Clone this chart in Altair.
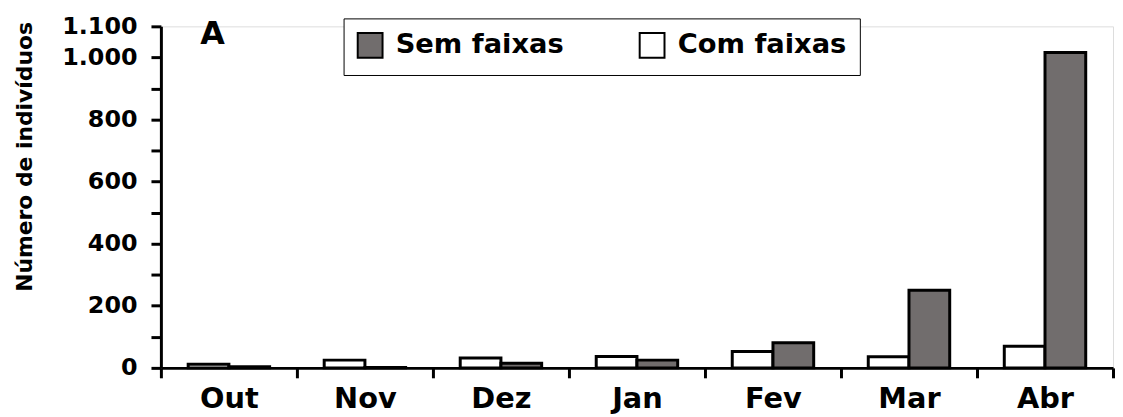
import altair as alt
import pandas as pd

months = ["Out", "Nov", "Dez", "Jan", "Fev", "Mar", "Abr"]
com_faixas = [12, 25, 32, 37, 53, 36, 70]
sem_faixas = [4, 1, 15, 25, 81, 250, 1016]
series_legend = ["Sem faixas", "Com faixas"]
series_order = ["Com faixas", "Sem faixas"]
y_ticks = list(range(0, 1101, 100))

rows = []
for m, c, s in zip(months, com_faixas, sem_faixas):
    rows.append({"mes": m, "serie": "Com faixas", "valor": c})
    rows.append({"mes": m, "serie": "Sem faixas", "valor": s})
df = pd.DataFrame(rows)

FONT = "DejaVu Sans"

bars = alt.Chart(df).mark_bar(stroke="black", strokeWidth=3).encode(
    x=alt.X(
        "mes:N", sort=months,
        scale=alt.Scale(paddingInner=0, paddingOuter=0),
        axis=alt.Axis(title=None, labelAngle=0, tickBand="extent", tickSize=10,
                      tickWidth=3, domainWidth=3, domainColor="black", tickColor="black",
                      labelFont=FONT, labelFontSize=29, labelFontWeight="bold",
                      labelColor="black", labelPadding=7),
    ),
    xOffset=alt.XOffset("serie:N", sort=series_order,
                        scale=alt.Scale(paddingInner=0, paddingOuter=0.67)),
    y=alt.Y(
        "valor:Q",
        scale=alt.Scale(domain=[0, 1100], nice=False),
        axis=alt.Axis(
            title="Número de indivíduos", values=y_ticks,
            labelExpr="(datum.value % 200 == 0 || datum.value == 1100) ? replace(format(datum.value, ',d'), ',', '.') : ''",
            grid=False, tickSize=10, tickWidth=3, domainWidth=3,
            domainColor="black", tickColor="black",
            labelFont=FONT, labelFontSize=24, labelFontWeight="bold",
            labelColor="black", labelPadding=14,
            titleFont=FONT, titleFontSize=22, titleFontWeight="bold", titleColor="black",
            titleX=-137, titleY=131, titleAlign="center", titleBaseline="middle",
        ),
    ),
    fill=alt.Fill(
        "serie:N",
        scale=alt.Scale(domain=series_legend, range=["#716d6d", "#ffffff"]),
        legend=alt.Legend(
            title=None, orient="none", direction="horizontal",
            legendX=184, legendY=-8, padding=13,
            strokeColor="black", fillColor="white",
            symbolType="square", symbolSize=625, symbolStrokeColor="black",
            symbolStrokeWidth=2, symbolOpacity=1,
            labelFont=FONT, labelFontSize=27.5, labelFontWeight="bold",
            labelColor="black", labelOffset=12, columnPadding=72,
            labelLimit=400,
        ),
    ),
)

label = alt.Chart(alt.Data(values=[{"t": "A"}])).mark_text(
    font=FONT, fontSize=32, fontWeight="bold", align="center", baseline="middle",
    color="black",
).encode(text="t:N", x=alt.value(52), y=alt.value(8))

chart = alt.layer(bars, label).properties(
    width=959, height=344, autosize="none",
    padding={"left": 154, "top": 17, "right": 2, "bottom": 48},
).configure_view(stroke=None).configure(background="white")

chart.save("out.html", embed_options={"renderer": "svg", "actions": False})
